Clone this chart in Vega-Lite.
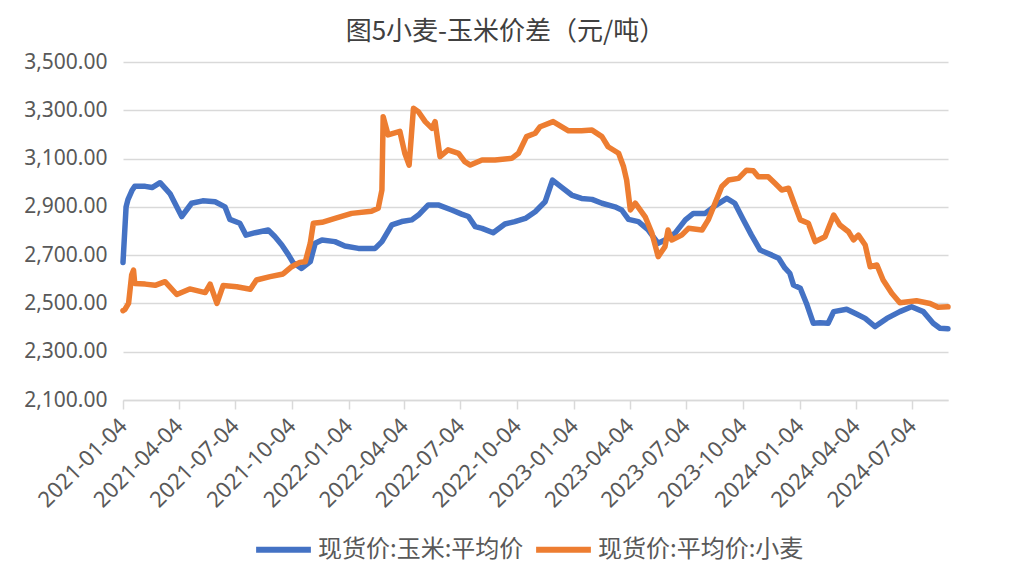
{
  "$schema": "https://vega.github.io/schema/vega-lite/v6.json",
  "width": 825,
  "height": 338,
  "autosize": {"type": "none"},
  "padding": {"left": 123, "top": 62, "right": 66, "bottom": 168},
  "background": "#ffffff",
  "config": {
    "view": {"stroke": null},
    "font": "Noto Sans CJK SC"
  },
  "title": {
    "text": "图5小麦-玉米价差（元/吨）",
    "fontSize": 26,
    "fontWeight": "normal",
    "color": "#404040",
    "font": "Noto Sans CJK SC",
    "anchor": "middle",
    "frame": "group",
    "dx": -30,
    "offset": 6
  },
  "data": {
    "values": [
      {"d": "2021-01-04", "v": 2670, "s": "现货价:玉米:平均价"},
      {"d": "2021-01-09", "v": 2900, "s": "现货价:玉米:平均价"},
      {"d": "2021-01-12", "v": 2930, "s": "现货价:玉米:平均价"},
      {"d": "2021-01-19", "v": 2970, "s": "现货价:玉米:平均价"},
      {"d": "2021-01-23", "v": 2985, "s": "现货价:玉米:平均价"},
      {"d": "2021-02-09", "v": 2985, "s": "现货价:玉米:平均价"},
      {"d": "2021-02-20", "v": 2980, "s": "现货价:玉米:平均价"},
      {"d": "2021-03-05", "v": 3000, "s": "现货价:玉米:平均价"},
      {"d": "2021-03-21", "v": 2955, "s": "现货价:玉米:平均价"},
      {"d": "2021-04-03", "v": 2890, "s": "现货价:玉米:平均价"},
      {"d": "2021-04-09", "v": 2860, "s": "现货价:玉米:平均价"},
      {"d": "2021-04-25", "v": 2915, "s": "现货价:玉米:平均价"},
      {"d": "2021-05-13", "v": 2925, "s": "现货价:玉米:平均价"},
      {"d": "2021-06-02", "v": 2921, "s": "现货价:玉米:平均价"},
      {"d": "2021-06-18", "v": 2900, "s": "现货价:玉米:平均价"},
      {"d": "2021-06-26", "v": 2848, "s": "现货价:玉米:平均价"},
      {"d": "2021-07-12", "v": 2832, "s": "现货价:玉米:平均价"},
      {"d": "2021-07-22", "v": 2783, "s": "现货价:玉米:平均价"},
      {"d": "2021-08-06", "v": 2793, "s": "现货价:玉米:平均价"},
      {"d": "2021-08-27", "v": 2804, "s": "现货价:玉米:平均价"},
      {"d": "2021-09-07", "v": 2776, "s": "现货价:玉米:平均价"},
      {"d": "2021-09-18", "v": 2742, "s": "现货价:玉米:平均价"},
      {"d": "2021-09-29", "v": 2700, "s": "现货价:玉米:平均价"},
      {"d": "2021-10-06", "v": 2670, "s": "现货价:玉米:平均价"},
      {"d": "2021-10-20", "v": 2645, "s": "现货价:玉米:平均价"},
      {"d": "2021-11-03", "v": 2673, "s": "现货价:玉米:平均价"},
      {"d": "2021-11-11", "v": 2749, "s": "现货价:玉米:平均价"},
      {"d": "2021-11-22", "v": 2763, "s": "现货价:玉米:平均价"},
      {"d": "2021-12-13", "v": 2756, "s": "现货价:玉米:平均价"},
      {"d": "2021-12-29", "v": 2738, "s": "现货价:玉米:平均价"},
      {"d": "2022-01-20", "v": 2728, "s": "现货价:玉米:平均价"},
      {"d": "2022-02-16", "v": 2728, "s": "现货价:玉米:平均价"},
      {"d": "2022-02-27", "v": 2756, "s": "现货价:玉米:平均价"},
      {"d": "2022-03-15", "v": 2825, "s": "现货价:玉米:平均价"},
      {"d": "2022-03-31", "v": 2839, "s": "现货价:玉米:平均价"},
      {"d": "2022-04-16", "v": 2846, "s": "现货价:玉米:平均价"},
      {"d": "2022-04-27", "v": 2866, "s": "现货价:玉米:平均价"},
      {"d": "2022-05-13", "v": 2908, "s": "现货价:玉米:平均价"},
      {"d": "2022-05-29", "v": 2908, "s": "现货价:玉米:平均价"},
      {"d": "2022-06-20", "v": 2887, "s": "现货价:玉米:平均价"},
      {"d": "2022-07-06", "v": 2870, "s": "现货价:玉米:平均价"},
      {"d": "2022-07-17", "v": 2860, "s": "现货价:玉米:平均价"},
      {"d": "2022-07-28", "v": 2818, "s": "现货价:玉米:平均价"},
      {"d": "2022-08-08", "v": 2811, "s": "现货价:玉米:平均价"},
      {"d": "2022-08-26", "v": 2793, "s": "现货价:玉米:平均价"},
      {"d": "2022-09-14", "v": 2829, "s": "现货价:玉米:平均价"},
      {"d": "2022-09-30", "v": 2839, "s": "现货价:玉米:平均价"},
      {"d": "2022-10-17", "v": 2852, "s": "现货价:玉米:平均价"},
      {"d": "2022-11-02", "v": 2880, "s": "现货价:玉米:平均价"},
      {"d": "2022-11-18", "v": 2921, "s": "现货价:玉米:平均价"},
      {"d": "2022-11-30", "v": 3011, "s": "现货价:玉米:平均价"},
      {"d": "2022-12-15", "v": 2981, "s": "现货价:玉米:平均价"},
      {"d": "2022-12-31", "v": 2949, "s": "现货价:玉米:平均价"},
      {"d": "2023-01-16", "v": 2935, "s": "现货价:玉米:平均价"},
      {"d": "2023-02-02", "v": 2931, "s": "现货价:玉米:平均价"},
      {"d": "2023-02-18", "v": 2915, "s": "现货价:玉米:平均价"},
      {"d": "2023-03-11", "v": 2900, "s": "现货价:玉米:平均价"},
      {"d": "2023-03-22", "v": 2887, "s": "现货价:玉米:平均价"},
      {"d": "2023-04-02", "v": 2848, "s": "现货价:玉米:平均价"},
      {"d": "2023-04-18", "v": 2839, "s": "现货价:玉米:平均价"},
      {"d": "2023-05-04", "v": 2804, "s": "现货价:玉米:平均价"},
      {"d": "2023-05-20", "v": 2749, "s": "现货价:玉米:平均价"},
      {"d": "2023-05-31", "v": 2763, "s": "现货价:玉米:平均价"},
      {"d": "2023-06-16", "v": 2790, "s": "现货价:玉米:平均价"},
      {"d": "2023-07-03", "v": 2846, "s": "现货价:玉米:平均价"},
      {"d": "2023-07-16", "v": 2873, "s": "现货价:玉米:平均价"},
      {"d": "2023-08-04", "v": 2873, "s": "现货价:玉米:平均价"},
      {"d": "2023-08-20", "v": 2904, "s": "现货价:玉米:平均价"},
      {"d": "2023-09-08", "v": 2935, "s": "现货价:玉米:平均价"},
      {"d": "2023-09-21", "v": 2915, "s": "现货价:玉米:平均价"},
      {"d": "2023-10-05", "v": 2846, "s": "现货价:玉米:平均价"},
      {"d": "2023-10-18", "v": 2783, "s": "现货价:玉米:平均价"},
      {"d": "2023-11-01", "v": 2721, "s": "现货价:玉米:平均价"},
      {"d": "2023-11-20", "v": 2700, "s": "现货价:玉米:平均价"},
      {"d": "2023-12-01", "v": 2687, "s": "现货价:玉米:平均价"},
      {"d": "2023-12-11", "v": 2647, "s": "现货价:玉米:平均价"},
      {"d": "2023-12-19", "v": 2625, "s": "现货价:玉米:平均价"},
      {"d": "2023-12-25", "v": 2576, "s": "现货价:玉米:平均价"},
      {"d": "2024-01-05", "v": 2563, "s": "现货价:玉米:平均价"},
      {"d": "2024-01-15", "v": 2500, "s": "现货价:玉米:平均价"},
      {"d": "2024-01-26", "v": 2418, "s": "现货价:玉米:平均价"},
      {"d": "2024-02-06", "v": 2420, "s": "现货价:玉米:平均价"},
      {"d": "2024-02-19", "v": 2418, "s": "现货价:玉米:平均价"},
      {"d": "2024-02-28", "v": 2466, "s": "现货价:玉米:平均价"},
      {"d": "2024-03-20", "v": 2476, "s": "现货价:玉米:平均价"},
      {"d": "2024-04-05", "v": 2456, "s": "现货价:玉米:平均价"},
      {"d": "2024-04-19", "v": 2438, "s": "现货价:玉米:平均价"},
      {"d": "2024-05-05", "v": 2404, "s": "现货价:玉米:平均价"},
      {"d": "2024-05-24", "v": 2438, "s": "现货价:玉米:平均价"},
      {"d": "2024-06-14", "v": 2466, "s": "现货价:玉米:平均价"},
      {"d": "2024-07-03", "v": 2486, "s": "现货价:玉米:平均价"},
      {"d": "2024-07-22", "v": 2466, "s": "现货价:玉米:平均价"},
      {"d": "2024-08-07", "v": 2418, "s": "现货价:玉米:平均价"},
      {"d": "2024-08-18", "v": 2397, "s": "现货价:玉米:平均价"},
      {"d": "2024-08-31", "v": 2395, "s": "现货价:玉米:平均价"},
      {"d": "2021-01-04", "v": 2470, "s": "现货价:平均价:小麦"},
      {"d": "2021-01-07", "v": 2475, "s": "现货价:平均价:小麦"},
      {"d": "2021-01-13", "v": 2500, "s": "现货价:平均价:小麦"},
      {"d": "2021-01-18", "v": 2618, "s": "现货价:平均价:小麦"},
      {"d": "2021-01-21", "v": 2638, "s": "现货价:平均价:小麦"},
      {"d": "2021-01-23", "v": 2583, "s": "现货价:平均价:小麦"},
      {"d": "2021-02-09", "v": 2580, "s": "现货价:平均价:小麦"},
      {"d": "2021-02-25", "v": 2575, "s": "现货价:平均价:小麦"},
      {"d": "2021-03-13", "v": 2590, "s": "现货价:平均价:小麦"},
      {"d": "2021-04-01", "v": 2537, "s": "现货价:平均价:小麦"},
      {"d": "2021-04-22", "v": 2560, "s": "现货价:平均价:小麦"},
      {"d": "2021-05-17", "v": 2545, "s": "现货价:平均价:小麦"},
      {"d": "2021-05-25", "v": 2580, "s": "现货价:平均价:小麦"},
      {"d": "2021-06-05", "v": 2500, "s": "现货价:平均价:小麦"},
      {"d": "2021-06-15", "v": 2574, "s": "现货价:平均价:小麦"},
      {"d": "2021-07-07", "v": 2569, "s": "现货价:平均价:小麦"},
      {"d": "2021-07-29", "v": 2559, "s": "现货价:平均价:小麦"},
      {"d": "2021-08-08", "v": 2597, "s": "现货价:平均价:小麦"},
      {"d": "2021-08-30", "v": 2611, "s": "现货价:平均价:小麦"},
      {"d": "2021-09-20", "v": 2622, "s": "现货价:平均价:小麦"},
      {"d": "2021-10-04", "v": 2652, "s": "现货价:平均价:小麦"},
      {"d": "2021-10-17", "v": 2670, "s": "现货价:平均价:小麦"},
      {"d": "2021-10-26", "v": 2673, "s": "现货价:平均价:小麦"},
      {"d": "2021-11-03", "v": 2749, "s": "现货价:平均价:小麦"},
      {"d": "2021-11-08", "v": 2832, "s": "现货价:平均价:小麦"},
      {"d": "2021-11-22", "v": 2836, "s": "现货价:平均价:小麦"},
      {"d": "2021-12-13", "v": 2852, "s": "现货价:平均价:小麦"},
      {"d": "2022-01-09", "v": 2873, "s": "现货价:平均价:小麦"},
      {"d": "2022-02-10", "v": 2882, "s": "现货价:平均价:小麦"},
      {"d": "2022-02-21", "v": 2894, "s": "现货价:平均价:小麦"},
      {"d": "2022-02-27", "v": 2970, "s": "现货价:平均价:小麦"},
      {"d": "2022-03-01", "v": 3273, "s": "现货价:平均价:小麦"},
      {"d": "2022-03-09", "v": 3198, "s": "现货价:平均价:小麦"},
      {"d": "2022-03-28", "v": 3213, "s": "现货价:平均价:小麦"},
      {"d": "2022-04-05", "v": 3122, "s": "现货价:平均价:小麦"},
      {"d": "2022-04-12", "v": 3073, "s": "现货价:平均价:小麦"},
      {"d": "2022-04-19", "v": 3308, "s": "现货价:平均价:小麦"},
      {"d": "2022-04-27", "v": 3294, "s": "现货价:平均价:小麦"},
      {"d": "2022-05-08", "v": 3253, "s": "现货价:平均价:小麦"},
      {"d": "2022-05-19", "v": 3225, "s": "现货价:平均价:小麦"},
      {"d": "2022-05-24", "v": 3253, "s": "现货价:平均价:小麦"},
      {"d": "2022-06-01", "v": 3108, "s": "现货价:平均价:小麦"},
      {"d": "2022-06-14", "v": 3136, "s": "现货价:平均价:小麦"},
      {"d": "2022-07-01", "v": 3122, "s": "现货价:平均价:小麦"},
      {"d": "2022-07-11", "v": 3087, "s": "现货价:平均价:小麦"},
      {"d": "2022-07-20", "v": 3073, "s": "现货价:平均价:小麦"},
      {"d": "2022-08-08", "v": 3094, "s": "现货价:平均价:小麦"},
      {"d": "2022-08-29", "v": 3094, "s": "现货价:平均价:小麦"},
      {"d": "2022-09-25", "v": 3101, "s": "现货价:平均价:小麦"},
      {"d": "2022-10-06", "v": 3122, "s": "现货价:平均价:小麦"},
      {"d": "2022-10-19", "v": 3191, "s": "现货价:平均价:小麦"},
      {"d": "2022-11-02", "v": 3205, "s": "现货价:平均价:小麦"},
      {"d": "2022-11-10", "v": 3232, "s": "现货价:平均价:小麦"},
      {"d": "2022-12-01", "v": 3253, "s": "现货价:平均价:小麦"},
      {"d": "2022-12-26", "v": 3215, "s": "现货价:平均价:小麦"},
      {"d": "2023-01-16", "v": 3215, "s": "现货价:平均价:小麦"},
      {"d": "2023-02-02", "v": 3218, "s": "现货价:平均价:小麦"},
      {"d": "2023-02-18", "v": 3191, "s": "现货价:平均价:小麦"},
      {"d": "2023-02-28", "v": 3149, "s": "现货价:平均价:小麦"},
      {"d": "2023-03-17", "v": 3122, "s": "现货价:平均价:小麦"},
      {"d": "2023-03-25", "v": 3066, "s": "现货价:平均价:小麦"},
      {"d": "2023-03-30", "v": 3011, "s": "现货价:平均价:小麦"},
      {"d": "2023-04-05", "v": 2887, "s": "现货价:平均价:小麦"},
      {"d": "2023-04-13", "v": 2915, "s": "现货价:平均价:小麦"},
      {"d": "2023-04-29", "v": 2859, "s": "现货价:平均价:小麦"},
      {"d": "2023-05-10", "v": 2790, "s": "现货价:平均价:小麦"},
      {"d": "2023-05-20", "v": 2694, "s": "现货价:平均价:小麦"},
      {"d": "2023-05-31", "v": 2735, "s": "现货价:平均价:小麦"},
      {"d": "2023-06-05", "v": 2804, "s": "现货价:平均价:小麦"},
      {"d": "2023-06-11", "v": 2763, "s": "现货价:平均价:小麦"},
      {"d": "2023-06-27", "v": 2783, "s": "现货价:平均价:小麦"},
      {"d": "2023-07-08", "v": 2811, "s": "现货价:平均价:小麦"},
      {"d": "2023-07-30", "v": 2804, "s": "现货价:平均价:小麦"},
      {"d": "2023-08-09", "v": 2846, "s": "现货价:平均价:小麦"},
      {"d": "2023-08-20", "v": 2915, "s": "现货价:平均价:小麦"},
      {"d": "2023-08-31", "v": 2984, "s": "现货价:平均价:小麦"},
      {"d": "2023-09-11", "v": 3011, "s": "现货价:平均价:小麦"},
      {"d": "2023-09-27", "v": 3018, "s": "现货价:平均价:小麦"},
      {"d": "2023-10-10", "v": 3052, "s": "现货价:平均价:小麦"},
      {"d": "2023-10-21", "v": 3050, "s": "现货价:平均价:小麦"},
      {"d": "2023-10-29", "v": 3025, "s": "现货价:平均价:小麦"},
      {"d": "2023-11-14", "v": 3025, "s": "现货价:平均价:小麦"},
      {"d": "2023-11-25", "v": 2998, "s": "现货价:平均价:小麦"},
      {"d": "2023-12-06", "v": 2970, "s": "现货价:平均价:小麦"},
      {"d": "2023-12-17", "v": 2977, "s": "现货价:平均价:小麦"},
      {"d": "2023-12-25", "v": 2921, "s": "现货价:平均价:小麦"},
      {"d": "2024-01-05", "v": 2846, "s": "现货价:平均价:小麦"},
      {"d": "2024-01-18", "v": 2832, "s": "现货价:平均价:小麦"},
      {"d": "2024-01-29", "v": 2756, "s": "现货价:平均价:小麦"},
      {"d": "2024-02-14", "v": 2776, "s": "现货价:平均价:小麦"},
      {"d": "2024-02-28", "v": 2866, "s": "现货价:平均价:小麦"},
      {"d": "2024-03-09", "v": 2825, "s": "现货价:平均价:小麦"},
      {"d": "2024-03-23", "v": 2797, "s": "现货价:平均价:小麦"},
      {"d": "2024-03-31", "v": 2763, "s": "现货价:平均价:小麦"},
      {"d": "2024-04-08", "v": 2783, "s": "现货价:平均价:小麦"},
      {"d": "2024-04-19", "v": 2742, "s": "现货价:平均价:小麦"},
      {"d": "2024-04-27", "v": 2652, "s": "现货价:平均价:小麦"},
      {"d": "2024-05-08", "v": 2659, "s": "现货价:平均价:小麦"},
      {"d": "2024-05-18", "v": 2597, "s": "现货价:平均价:小麦"},
      {"d": "2024-06-01", "v": 2542, "s": "现货价:平均价:小麦"},
      {"d": "2024-06-14", "v": 2503, "s": "现货价:平均价:小麦"},
      {"d": "2024-07-11", "v": 2511, "s": "现货价:平均价:小麦"},
      {"d": "2024-08-02", "v": 2500, "s": "现货价:平均价:小麦"},
      {"d": "2024-08-15", "v": 2484, "s": "现货价:平均价:小麦"},
      {"d": "2024-08-31", "v": 2486, "s": "现货价:平均价:小麦"}
    ]
  },
  "mark": {"type": "line", "strokeWidth": 5.5, "strokeJoin": "round", "strokeCap": "round"},
  "encoding": {
    "x": {
      "field": "d",
      "type": "temporal",
      "scale": {"type": "utc", "domain": [{"year": 2021, "month": 1, "date": 4, "utc": true}, {"year": 2024, "month": 8, "date": 31, "utc": true}]},
      "axis": {
        "title": null,
        "grid": false,
        "labelExpr": "utcFormat(datum.value, '%Y-%m-%d')",
        "values": [
          {"year": 2021, "month": 1, "date": 4, "utc": true},
          {"year": 2021, "month": 4, "date": 4, "utc": true},
          {"year": 2021, "month": 7, "date": 4, "utc": true},
          {"year": 2021, "month": 10, "date": 4, "utc": true},
          {"year": 2022, "month": 1, "date": 4, "utc": true},
          {"year": 2022, "month": 4, "date": 4, "utc": true},
          {"year": 2022, "month": 7, "date": 4, "utc": true},
          {"year": 2022, "month": 10, "date": 4, "utc": true},
          {"year": 2023, "month": 1, "date": 4, "utc": true},
          {"year": 2023, "month": 4, "date": 4, "utc": true},
          {"year": 2023, "month": 7, "date": 4, "utc": true},
          {"year": 2023, "month": 10, "date": 4, "utc": true},
          {"year": 2024, "month": 1, "date": 4, "utc": true},
          {"year": 2024, "month": 4, "date": 4, "utc": true},
          {"year": 2024, "month": 7, "date": 4, "utc": true}
        ],
        "labelAngle": -45,
        "labelAlign": "right",
        "labelBaseline": "middle",
        "labelFontSize": 22,
        "labelColor": "#595959",
        "labelFont": "Noto Sans",
        "labelPadding": 13,
        "labelOverlap": false,
        "labelFlush": false,
        "domainColor": "#D9D9D9",
        "domainWidth": 1.5,
        "tickColor": "#D9D9D9",
        "tickWidth": 1.5,
        "tickSize": 9
      }
    },
    "y": {
      "field": "v",
      "type": "quantitative",
      "scale": {"domain": [2100, 3500], "nice": false, "zero": false},
      "axis": {
        "title": null,
        "values": [2100, 2300, 2500, 2700, 2900, 3100, 3300, 3500],
        "format": ",.2f",
        "domain": false,
        "ticks": false,
        "labelFontSize": 21,
        "labelColor": "#595959",
        "labelFont": "Noto Sans",
        "labelPadding": 16,
        "gridColor": "#D9D9D9",
        "gridWidth": 1.5
      }
    },
    "color": {
      "field": "s",
      "type": "nominal",
      "sort": ["现货价:玉米:平均价", "现货价:平均价:小麦"],
      "scale": {"domain": ["现货价:玉米:平均价", "现货价:平均价:小麦"], "range": ["#4472C4", "#ED7D31"]},
      "legend": {
        "title": null,
        "orient": "none",
        "direction": "horizontal",
        "legendX": 130,
        "legendY": 457,
        "symbolType": "stroke",
        "symbolSize": 3000,
        "symbolStrokeWidth": 6,
        "labelFontSize": 24,
        "labelColor": "#595959",
        "labelFont": "Noto Sans CJK SC",
        "labelOffset": 4,
        "columnPadding": 0,
        "labelLimit": 400
      }
    }
  }
}
